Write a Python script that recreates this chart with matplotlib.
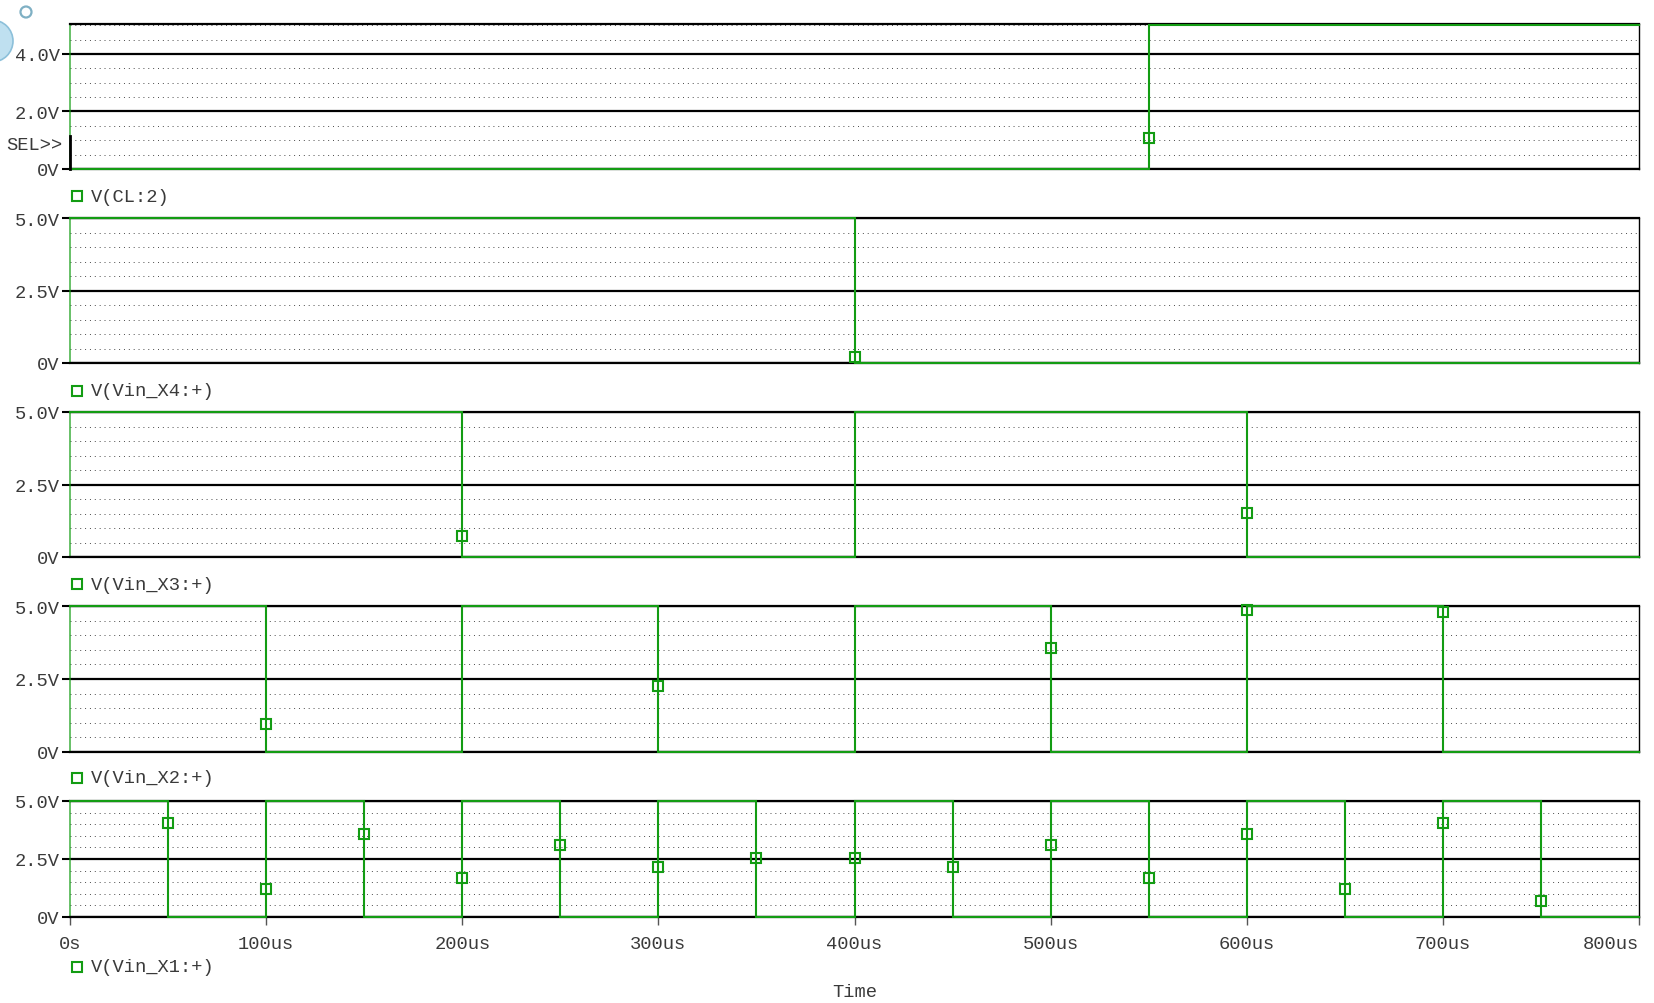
import matplotlib
matplotlib.use('Agg')
import matplotlib.pyplot as plt
from matplotlib.lines import Line2D
from matplotlib.patches import Circle
from matplotlib.ticker import MultipleLocator, FixedLocator

# ---------------- data ----------------
tick_times_us = [0, 100, 200, 300, 400, 500, 600, 700, 800]
tick_labels = ['0s', '100us', '200us', '300us', '400us', '500us', '600us', '700us', '800us']

signal_names = ['V(CL:2)', 'V(Vin_X4:+)', 'V(Vin_X3:+)', 'V(Vin_X2:+)', 'V(Vin_X1:+)']

cl2_edges = [0, 550, 800]
cl2_levels = [0, 5]
x4_edges = [0, 400, 800]
x4_levels = [5, 0]
x3_edges = [0, 200, 400, 600, 800]
x3_levels = [5, 0, 5, 0]
x2_edges = [0, 100, 200, 300, 400, 500, 600, 700, 800]
x2_levels = [5, 0, 5, 0, 5, 0, 5, 0]
x1_edges = [0, 50, 100, 150, 200, 250, 300, 350, 400, 450, 500, 550, 600, 650, 700, 750, 800]
x1_levels = [5, 0, 5, 0, 5, 0, 5, 0, 5, 0, 5, 0, 5, 0, 5, 0]

cl2_mk_t = [550]
cl2_mk_v = [1.07]
x4_mk_t = [400]
x4_mk_v = [0.2]
x3_mk_t = [200, 600]
x3_mk_v = [0.72, 1.53]
x2_mk_t = [100, 300, 500, 600, 700]
x2_mk_v = [0.97, 2.27, 3.57, 4.87, 4.80]
x1_mk_t = [50, 100, 150, 200, 250, 300, 350, 400, 450, 500, 550, 600, 650, 700, 750]
x1_mk_v = [4.06, 1.19, 3.56, 1.69, 3.10, 2.15, 2.56, 2.56, 2.15, 3.10, 1.69, 3.56, 1.19, 4.06, 0.69]

y_ticks_sel = [0, 2, 4]
y_labels_sel = ['0V', '2.0V', '4.0V']
y_ticks_std = [0, 2.5, 5]
y_labels_std = ['0V', '2.5V', '5.0V']

# ---------------- style ----------------
W, H = 1654, 1004
FONT = 'Liberation Mono'
FS = 13.5
GREEN = '#139c13'
TXT = '#3a3a3a'

plt.rcParams['font.family'] = [FONT, 'DejaVu Sans']

fig = plt.figure(figsize=(W / 100, H / 100), dpi=100)

# background decorations (UI artifacts)
bg = fig.add_axes([0, 0, 1, 1], zorder=-5)
bg.set_xlim(0, W)
bg.set_ylim(H, 0)
bg.axis('off')
bg.add_patch(Circle((-8, 42), 21, facecolor='#bfe0f0', edgecolor='#8cc0da', lw=1.2))
bg.add_patch(Circle((26, 13), 5.5, facecolor='none', edgecolor='#7fb0c4', lw=1.6))

left_px, right_px = 70, 1639
panels_px = [(25, 170), (219, 364), (413, 558), (607, 753), (802, 918)]

signals = [
    (cl2_edges, cl2_levels, cl2_mk_t, cl2_mk_v),
    (x4_edges, x4_levels, x4_mk_t, x4_mk_v),
    (x3_edges, x3_levels, x3_mk_t, x3_mk_v),
    (x2_edges, x2_levels, x2_mk_t, x2_mk_v),
    (x1_edges, x1_levels, x1_mk_t, x1_mk_v),
]
legend_y_px = [197, 392, 585, 779, 968]


def step_path(edges, levels):
    t, v = [], []
    for i, lvl in enumerate(levels):
        t += [edges[i], edges[i + 1]]
        v += [lvl, lvl]
    return t, v


axes = []
for i, ((top, bot), (edges, levels, mt, mv)) in enumerate(zip(panels_px, signals)):
    ax = fig.add_axes([left_px / W, 1 - bot / H, (right_px - left_px) / W, (bot - top) / H])
    axes.append(ax)
    ax.set_xlim(0, 800)
    if i == 0:
        ax.set_ylim(0, 5.04)
        ax.yaxis.set_major_locator(FixedLocator(y_ticks_sel))
        ax.set_yticklabels(y_labels_sel)
    else:
        ax.set_ylim(0, 5.0)
        ax.yaxis.set_major_locator(FixedLocator(y_ticks_std))
        ax.set_yticklabels(y_labels_std)
    ax.yaxis.set_minor_locator(MultipleLocator(0.5))
    ax.grid(which='major', axis='y', color='black', lw=1.6, zorder=1)
    ax.grid(which='minor', axis='y', color='#4a4a4a', lw=0.7, linestyle=(0, (1, 4)), zorder=1)
    ax.set_axisbelow(True)
    ax.tick_params(axis='y', which='major', direction='out', length=5.8, width=1.5,
                   color='black', pad=1.5, labelsize=FS, labelcolor=TXT)
    ax.tick_params(axis='y', which='minor', length=0)
    for s in ('top', 'bottom'):
        ax.spines[s].set_color('black')
        ax.spines[s].set_linewidth(1.6)
    ax.spines['right'].set_color('black')
    ax.spines['right'].set_linewidth(1.0)
    ax.spines['left'].set_color(GREEN)
    ax.spines['left'].set_linewidth(1.2)
    ax.spines['left'].set_alpha(0.75)

    t, v = step_path(edges, levels)
    ax.plot(t, v, color=GREEN, lw=1.5, zorder=5, clip_on=False, solid_joinstyle='miter')
    ax.plot(mt, mv, linestyle='none', marker='s', markersize=6.5, markerfacecolor='none',
            markeredgecolor=GREEN, markeredgewidth=1.5, zorder=6, clip_on=False)

    if i < 4:
        ax.tick_params(axis='x', which='both', bottom=False, labelbottom=False)
    else:
        ax.xaxis.set_major_locator(FixedLocator(tick_times_us))
        ax.set_xticklabels(tick_labels)
        ax.tick_params(axis='x', direction='out', length=5.8, width=1.0, color='#555555',
                       pad=7.5, labelsize=FS, labelcolor=TXT)
        ax.get_xticklabels()[-1].set_horizontalalignment('right')

    # legend entry below panel
    ly = 1 - legend_y_px[i] / H
    fig.add_artist(Line2D([77 / W], [ly], marker='s', markersize=6.5, markerfacecolor='none',
                          markeredgecolor=GREEN, markeredgewidth=1.5, linestyle='none'))
    fig.text(91 / W, ly, signal_names[i], fontsize=FS, color=TXT, ha='left', va='center')

# selection indicator on first panel
axes[0].plot([0, 0], [0, 1.15], color='black', lw=2.0, zorder=7, clip_on=False)
axes[0].annotate('SEL>>', xy=(0, 0.85), xycoords='data', xytext=(-8, 0),
                 textcoords='offset pixels', ha='right', va='center', fontsize=FS, color=TXT)

fig.text(855 / W, 1 - 993 / H, 'Time', fontsize=FS, color=TXT, ha='center', va='center')

fig.savefig('out.png', dpi=100, facecolor='white')
